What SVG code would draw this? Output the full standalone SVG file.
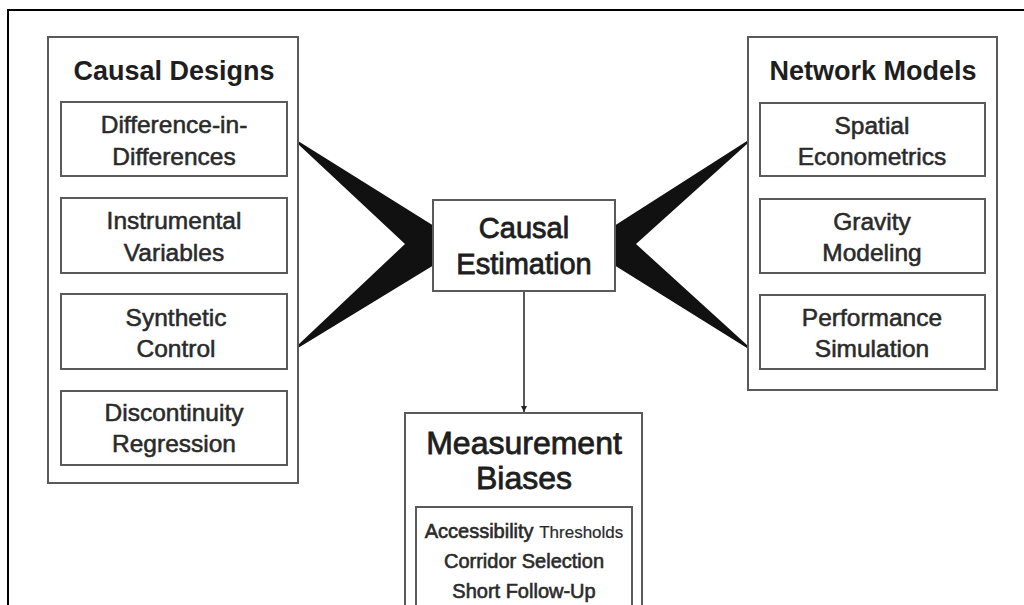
<svg xmlns="http://www.w3.org/2000/svg" width="1024" height="605" viewBox="0 0 1024 605">
<style>
.box{fill:#fff;stroke:#5a5a5a;stroke-width:2}
.t{font-family:"Liberation Sans",Arial,sans-serif;fill:#1e1e1e;text-anchor:middle}
.title{font-size:27px;font-weight:bold}
.item{font-size:24.5px;font-weight:normal;fill:#2a2a2a;stroke:#2a2a2a;stroke-width:0.55}
.mid{font-size:29px;font-weight:normal;stroke:#1e1e1e;stroke-width:0.8}
.big{font-size:32px;font-weight:normal;stroke:#1e1e1e;stroke-width:0.8}
.small{font-size:20px;font-weight:normal;fill:#2a2a2a;stroke:#2a2a2a;stroke-width:0.6}
.thin{font-size:17px;stroke-width:0.2}
.fan{fill:#111}
</style>
<defs>
<marker id="ah" markerWidth="8" markerHeight="8" refX="7" refY="4" orient="auto" markerUnits="userSpaceOnUse" viewBox="0 0 8 8">
<path d="M1,1 L7,4 L1,7 Z" fill="#222"/>
</marker>
</defs>
<rect width="1024" height="605" fill="#fff"/>
<path d="M8,605 L8,10 L1024,10" fill="none" stroke="#000" stroke-width="2"/>

<g id="connectors">
<polygon class="fan" points="298,141 434,226 434,265 298,348 298,345 405,244 298,144"/>
<polygon class="fan" points="747,141 614,226 614,265 747,348 747,345 636,244 747,144"/>
<line x1="524" y1="291" x2="524" y2="412" stroke="#222" stroke-width="1.5" marker-end="url(#ah)"/>
</g>

<g id="causal-designs">
<rect class="box" x="48" y="37" width="250" height="446"/>
<text class="t title" x="174" y="80">Causal Designs</text>
</g>
<g id="did">
<rect class="box" x="61" y="102" width="226" height="74"/>
<text class="t item" x="174" y="133">Difference-in-</text>
<text class="t item" x="174" y="165">Differences</text>
</g>
<g id="iv">
<rect class="box" x="61" y="198" width="226" height="75"/>
<text class="t item" x="174" y="229">Instrumental</text>
<text class="t item" x="174" y="261">Variables</text>
</g>
<g id="sc">
<rect class="box" x="61" y="294" width="226" height="75"/>
<text class="t item" x="176" y="326">Synthetic</text>
<text class="t item" x="176" y="357">Control</text>
</g>
<g id="rd">
<rect class="box" x="61" y="391" width="226" height="74"/>
<text class="t item" x="174" y="421">Discontinuity</text>
<text class="t item" x="174" y="452">Regression</text>
</g>

<g id="causal-estimation">
<rect class="box" x="433" y="200" width="182" height="91"/>
<text class="t mid" x="524" y="238">Causal</text>
<text class="t mid" x="524" y="274">Estimation</text>
</g>

<g id="network-models">
<rect class="box" x="748" y="37" width="249" height="353"/>
<text class="t title" x="873" y="80">Network Models</text>
</g>
<g id="spatial">
<rect class="box" x="760" y="103" width="225" height="73"/>
<text class="t item" x="872" y="134">Spatial</text>
<text class="t item" x="872" y="165">Econometrics</text>
</g>
<g id="gravity">
<rect class="box" x="760" y="199" width="225" height="74"/>
<text class="t item" x="872" y="230">Gravity</text>
<text class="t item" x="872" y="261">Modeling</text>
</g>
<g id="performance">
<rect class="box" x="760" y="295" width="225" height="74"/>
<text class="t item" x="872" y="326">Performance</text>
<text class="t item" x="872" y="357">Simulation</text>
</g>

<g id="measurement-biases">
<rect class="box" x="405" y="413" width="237" height="200"/>
<text class="t big" x="524" y="454">Measurement</text>
<text class="t big" x="524" y="489">Biases</text>
</g>
<g id="bias-list">
<rect class="box" x="416" y="507" width="216" height="110"/>
<text class="t small" x="524" y="538">Accessibility <tspan class="thin">Thresholds</tspan></text>
<text class="t small" x="524" y="568">Corridor Selection</text>
<text class="t small" x="524" y="598">Short Follow-Up</text>
</g>
</svg>
